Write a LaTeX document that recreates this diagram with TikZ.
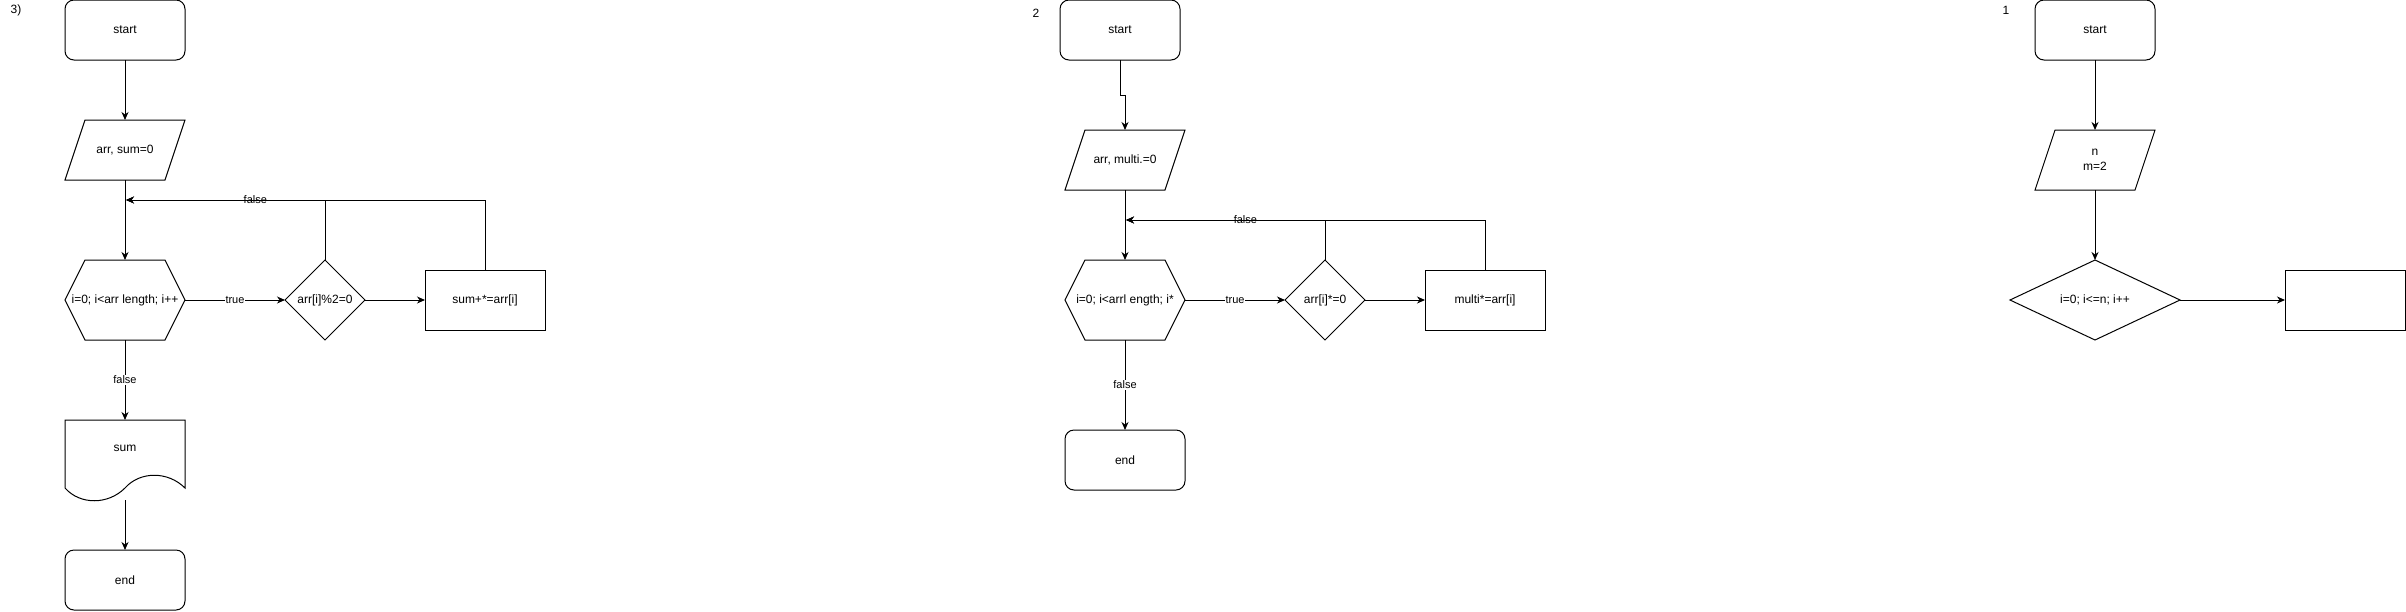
\documentclass[tikz,border=0pt]{standalone}
\usepackage{fontspec}
\setmainfont{Liberation Sans}
\usetikzlibrary{arrows.meta}
\begin{document}
\begin{tikzpicture}[x=1pt,y=-1pt,line width=1pt,
  every node/.style={inner sep=0pt, outer sep=0pt},
  fa/.style={font=\fontsize{12}{15}\selectfont},
  term/.style={draw, rounded corners=9pt, minimum width=120pt, minimum height=60pt},
  proc/.style={draw, minimum width=120pt, minimum height=60pt},
  blank/.style={minimum width=120pt, minimum height=#1},
  dia/.style={minimum width=80pt, minimum height=80pt},
  arr/.style={-{Stealth[length=8pt,width=7pt,inset=2.5pt]}},
  elbl/.style={font=\fontsize{11}{13}\selectfont, fill=white, inner sep=1pt},
  flbl/.style={font=\fontsize{11}{13}\selectfont, inner sep=1pt},
  num/.style={fa, anchor=center}
]
\useasboundingbox (0,0) rectangle (2406,611);

% ---------------- Section 3 ----------------
\node[num] (n3) at (16,10) {3)};
\node[term, fa] (s3) at (125,30) {start};
\node[blank=60pt, fa] (p3) at (125,150) {arr, sum=0};
\node[blank=80pt, fa] (h3) at (125,300) {i=0; i<arr length; i++};
\node[dia, fa] (d3) at (325,300) {arr[i]\%2=0};
\node[proc, fa] (r3) at (485,300) {sum+*=arr[i]};
\node[blank=80pt, label={[fa, yshift=12pt]center:sum}] (doc3) at (125,460) {};
\node[term, fa] (e3) at (125,580) {end};
\coordinate (j3) at (126,200);

\draw ([xshift=20pt]p3.north west) -- (p3.north east) -- ([xshift=-20pt]p3.south east) -- (p3.south west) -- cycle;
\draw (h3.west) -- ([xshift=20pt]h3.north west) -- ([xshift=-20pt]h3.north east) -- (h3.east)
      -- ([xshift=-20pt]h3.south east) -- ([xshift=20pt]h3.south west) -- cycle;
\draw (d3.west) -- (d3.north) -- (d3.east) -- (d3.south) -- cycle;
\draw (doc3.north west) -- (doc3.north east) -- ([yshift=12pt]doc3.south east)
      .. controls ([xshift=-17pt,yshift=29pt]doc3.south east) and ([xshift=-45pt,yshift=29pt]doc3.south east) .. ([yshift=12pt]doc3.south)
      .. controls ([xshift=-17pt,yshift=-5pt]doc3.south) and ([xshift=-45pt,yshift=-5pt]doc3.south) .. ([yshift=12pt]doc3.south west)
      -- cycle;

\draw[arr] (s3) -- (p3);
\draw[arr] (p3) -- (h3);
\draw[arr] (h3) -- node[elbl] {true} (d3);
\draw[arr] (d3) -- (r3);
\draw[arr] (d3.north) |- node[flbl, pos=0.675] {false} (j3);
\draw[arr] (r3.north) |- (j3);
\draw[arr] (h3) -- node[elbl] {false} (doc3);
\draw[arr] (doc3) -- (e3);

% ---------------- Section 2 ----------------
\node[num] (n2) at (1036,13) {2};
\node[term, fa] (s2) at (1120,30) {start};
\node[blank=60pt, fa] (p2) at (1125,160) {arr, multi.=0};
\node[blank=80pt, fa] (h2) at (1125,300) {i=0; i<arrl ength; i*};
\node[dia, fa] (d2) at (1325,300) {arr[i]*=0};
\node[proc, fa] (r2) at (1485,300) {multi*=arr[i]};
\node[term, fa] (e2) at (1125,460) {end};
\coordinate (j2) at (1126,220);

\draw ([xshift=20pt]p2.north west) -- (p2.north east) -- ([xshift=-20pt]p2.south east) -- (p2.south west) -- cycle;
\draw (h2.west) -- ([xshift=20pt]h2.north west) -- ([xshift=-20pt]h2.north east) -- (h2.east)
      -- ([xshift=-20pt]h2.south east) -- ([xshift=20pt]h2.south west) -- cycle;
\draw (d2.west) -- (d2.north) -- (d2.east) -- (d2.south) -- cycle;

\draw[arr] (s2.south) -- ++(0,35) -| (p2.north);
\draw[arr] (p2) -- (h2);
\draw[arr] (h2) -- node[elbl] {true} (d2);
\draw[arr] (d2) -- (r2);
\draw[arr] (d2.north) |- node[flbl, pos=0.70] {false} (j2);
\draw[arr] (r2.north) |- (j2);
\draw[arr] (h2) -- node[elbl] {false} (e2);

% ---------------- Section 1 ----------------
\node[num] (n1) at (2006,10) {1};
\node[term, fa] (s1) at (2095,30) {start};
\node[blank=60pt, fa, align=center] (p1) at (2095,160) {n\\m=2};
\node[fa, minimum width=170pt, minimum height=80pt] (d1) at (2095,300) {i=0; i<=n; i++};
\node[proc] (r1) at (2345,300) {};

\draw ([xshift=20pt]p1.north west) -- (p1.north east) -- ([xshift=-20pt]p1.south east) -- (p1.south west) -- cycle;
\draw (d1.west) -- (d1.north) -- (d1.east) -- (d1.south) -- cycle;

\draw[arr] (s1) -- (p1);
\draw[arr] (p1) -- (d1);
\draw[arr] (d1) -- (r1);
\end{tikzpicture}
\end{document}
